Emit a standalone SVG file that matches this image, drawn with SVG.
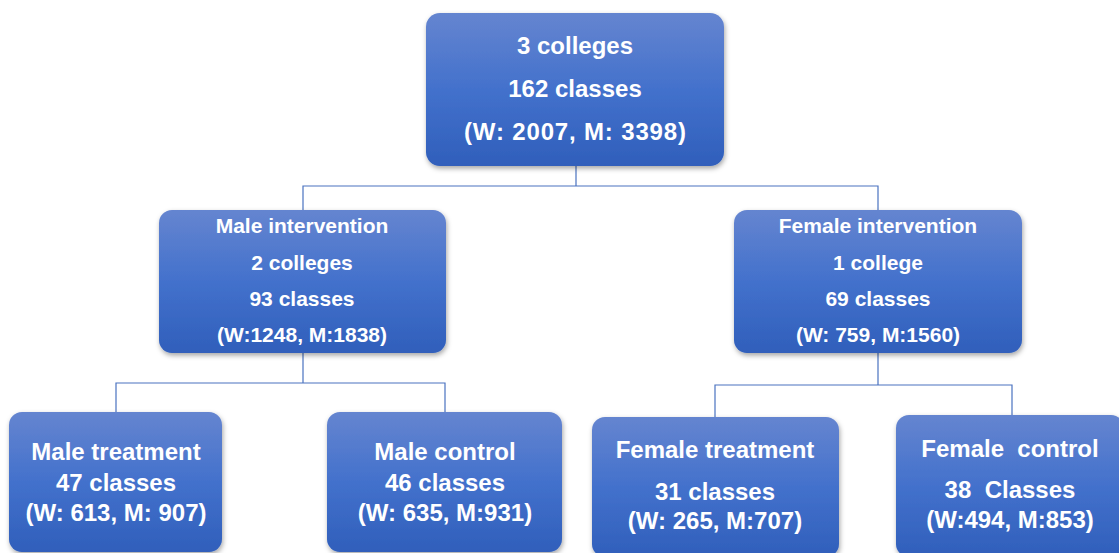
<svg xmlns="http://www.w3.org/2000/svg" width="1119" height="553" viewBox="0 0 1119 553">
<defs>
<linearGradient id="g" x1="0" y1="0" x2="0" y2="1">
<stop offset="0" stop-color="#6585d0"/>
<stop offset="0.5" stop-color="#4371cc"/>
<stop offset="1" stop-color="#305fbb"/>
</linearGradient>
<filter id="sh" x="-10%" y="-10%" width="120%" height="130%">
<feDropShadow dx="1" dy="2.5" stdDeviation="2.5" flood-color="#000" flood-opacity="0.35"/>
</filter>
<style>
.box{fill:url(#g);filter:url(#sh);}
text{font-family:"Liberation Sans",Arial,sans-serif;font-weight:bold;fill:#fff;text-anchor:middle;white-space:pre;}
.t1{font-size:24px;}
.t2{font-size:21px;}
.t3{font-size:24px;}
.con{fill:none;stroke:#4a72c0;stroke-width:1.2;}
</style>
</defs>
<rect width="1119" height="553" fill="#fff"/>
<g id="connectors">
<path class="con" d="M576 166 V186 H303 V210 M576 186 H878 V210"/>
<path class="con" d="M303 353 V383 H116 V412 M303 383 H445 V412"/>
<path class="con" d="M878 353 V385 H715 V417 M878 385 H1012 V415"/>
</g>
<g id="root">
<rect class="box" x="426" y="13" width="298" height="153" rx="14"/>
<text class="t1" x="575" y="54">3 colleges</text>
<text class="t1" x="575" y="97">162 classes</text>
<text class="t1" x="575" y="140" textLength="222" lengthAdjust="spacing">(W: 2007, M: 3398)</text>
</g>
<g id="male-intervention">
<rect class="box" x="159" y="210" width="287" height="143" rx="13"/>
<text class="t2" x="302" y="233">Male intervention</text>
<text class="t2" x="302" y="270">2 colleges</text>
<text class="t2" x="302" y="306">93 classes</text>
<text class="t2" x="302" y="342">(W:1248, M:1838)</text>
</g>
<g id="female-intervention">
<rect class="box" x="734" y="210" width="288" height="143" rx="13"/>
<text class="t2" x="878" y="233">Female intervention</text>
<text class="t2" x="878" y="270">1 college</text>
<text class="t2" x="878" y="306">69 classes</text>
<text class="t2" x="878" y="342">(W: 759, M:1560)</text>
</g>
<g id="male-treatment">
<rect class="box" x="9" y="412" width="213" height="140" rx="13"/>
<text class="t3" x="116" y="460">Male treatment</text>
<text class="t3" x="116" y="491">47 classes</text>
<text class="t3" x="116" y="521">(W: 613, M: 907)</text>
</g>
<g id="male-control">
<rect class="box" x="327" y="412" width="235" height="140" rx="13"/>
<text class="t3" x="445" y="460">Male control</text>
<text class="t3" x="445" y="491">46 classes</text>
<text class="t3" x="445" y="521">(W: 635, M:931)</text>
</g>
<g id="female-treatment">
<rect class="box" x="592" y="417" width="247" height="140" rx="13"/>
<text class="t3" x="715" y="458">Female treatment</text>
<text class="t3" x="715" y="500">31 classes</text>
<text class="t3" x="715" y="529">(W: 265, M:707)</text>
</g>
<g id="female-control">
<rect class="box" x="896" y="415" width="228" height="142" rx="13"/>
<text class="t3" x="1010" y="457">Female  control</text>
<text class="t3" x="1010" y="498">38  Classes</text>
<text class="t3" x="1010" y="528">(W:494, M:853)</text>
</g>
</svg>
